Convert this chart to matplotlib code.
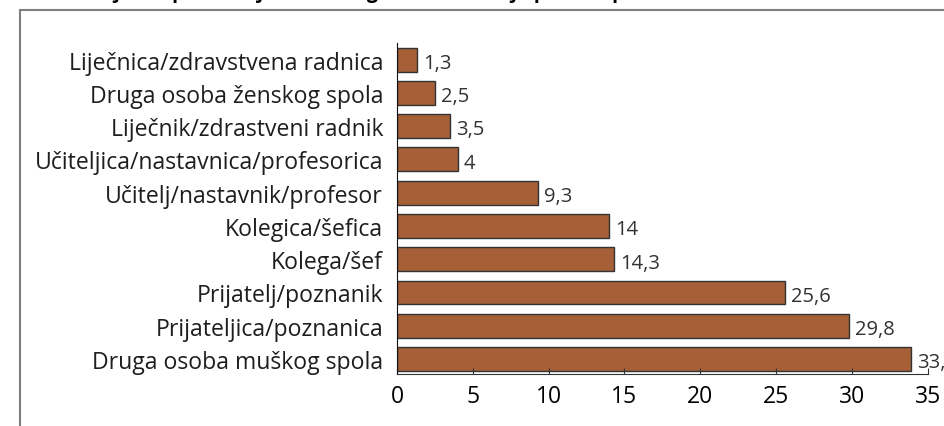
import matplotlib
matplotlib.use("Agg")
import matplotlib.pyplot as plt
from matplotlib.patches import Rectangle

# podaci (%)
kategorije = [
    "Liječnica/zdravstvena radnica",
    "Druga osoba ženskog spola",
    "Liječnik/zdrastveni radnik",
    "Učiteljica/nastavnica/profesorica",
    "Učitelj/nastavnik/profesor",
    "Kolegica/šefica",
    "Kolega/šef",
    "Prijatelj/poznanik",
    "Prijateljica/poznanica",
    "Druga osoba muškog spola",
]
vrijednosti = [1.3, 2.5, 3.5, 4, 9.3, 14, 14.3, 25.6, 29.8, 33.9]
oznake = ["1,3", "2,5", "3,5", "4", "9,3", "14", "14,3", "25,6", "29,8", "33,9"]
xticks = [0, 5, 10, 15, 20, 25, 30, 35]

plt.rcParams['font.family'] = ['Open Sans', 'DejaVu Sans']

fig = plt.figure(figsize=(9.44, 4.27), dpi=100)
ax = fig.add_axes([397 / 944, 1 - 375 / 427, 530.7 / 944, 331 / 427])

y = list(range(len(kategorije)))
ax.barh(y, vrijednosti, height=0.72, color="#a65f37", edgecolor="#333333", linewidth=1.0)

for yi, v, t in zip(y, vrijednosti, oznake):
    ax.text(v + 0.4, yi + 0.1, t, va="center", ha="left", fontsize=14.5,
            color="#333333", clip_on=False)

ax.set_yticks(y)
ax.set_yticklabels(kategorije, fontsize=16.6, color="#1e1e1e")
ax.set_ylim(9.45, -0.5)
ax.set_xlim(0, 35)
ax.set_xticks(xticks)
ax.set_xticklabels([str(t) for t in xticks], fontsize=16.5, color="black")
ax.tick_params(axis="x", direction="in", length=4, width=0.8, pad=7, color="#333333")
ax.tick_params(axis="y", length=0, pad=10)
ax.spines["top"].set_visible(False)
ax.spines["right"].set_visible(False)
ax.spines["left"].set_color("#111111")
ax.spines["bottom"].set_color("#333333")

# okvir i odrezani naslov
fig.patches.append(Rectangle((20 / 944, -0.2), 1.2, 1.2 - 11 / 427,
                             transform=fig.transFigure, fill=False,
                             edgecolor="#7f7f7f", linewidth=1.5))
fig.text(0.0, 1.0 + 2 / 427, "Slika 3. Tko je bio počinitelj seksualnog uznemiravanja prema spolu i ulozi",
         fontsize=14, fontweight="bold", va="baseline", ha="left")

fig.savefig("out.png", dpi=100)
